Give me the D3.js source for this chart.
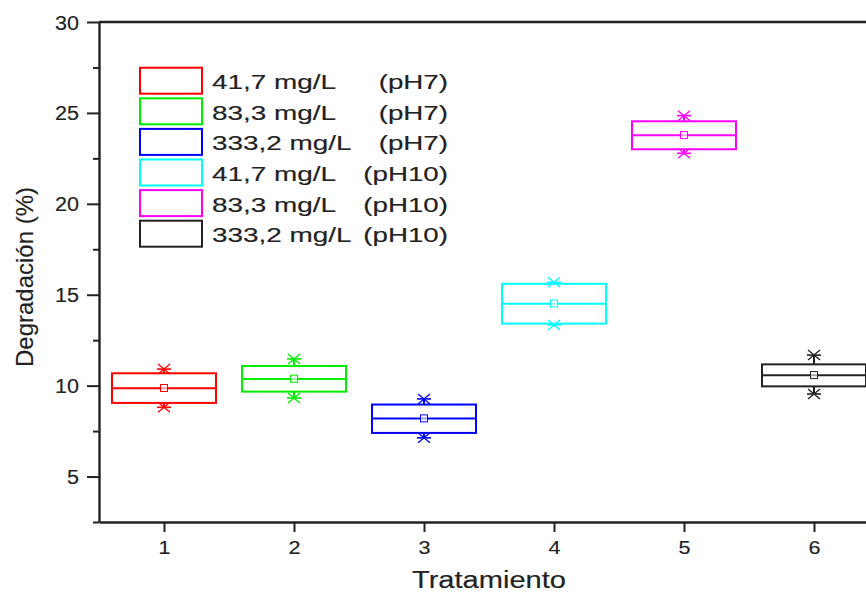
<!DOCTYPE html>
<html>
<head>
<meta charset="utf-8">
<script src="https://cdn.jsdelivr.net/npm/d3@7"></script>
<style>
  html, body { margin: 0; padding: 0; background: #fff; }
  svg { display: block; font-family: "Liberation Sans", Arial, sans-serif; }
  svg text { stroke: #1a1a1a; stroke-width: 0.15px; }
</style>
</head>
<body>
<svg id="chart" width="866" height="592"></svg>
<script>
// ---- data ----
const categories = [1, 2, 3, 4, 5, 6];
const concLabels = ["41,7 mg/L", "83,3 mg/L", "333,2 mg/L", "41,7 mg/L", "83,3 mg/L", "333,2 mg/L"];
const phLabels = ["(pH7)", "(pH7)", "(pH7)", "(pH10)", "(pH10)", "(pH10)"];
const colors = ["#ff0000", "#00ee00", "#0000ff", "#00ffff", "#ff00ff", "#222222"];
const q1Values = [9.05, 9.67, 7.40, 13.41, 23.00, 9.96];
const q3Values = [10.68, 11.08, 8.96, 15.60, 24.54, 11.17];
const medianValues = [9.85, 10.37, 8.19, 14.51, 23.77, 10.57];
const meanValues = [9.87, 10.38, 8.20, 14.52, 23.78, 10.58];
const maxValues = [10.91, 11.47, 9.27, 15.68, 24.85, 11.68];
const minValues = [8.81, 9.32, 7.13, 13.34, 22.78, 9.54];
const yMajorTicks = [5, 10, 15, 20, 25, 30];
const yMinorTicks = [2.5, 7.5, 12.5, 17.5, 22.5, 27.5];
const xTicks = [1, 2, 3, 4, 5, 6];
const xTitle = "Tratamiento";
const yTitle = "Degradación (%)";

// ---- layout ----
const svg = d3.select("#chart");
const x = d3.scaleLinear().domain([0.5, 6.5]).range([99, 879]);
const y = d3.scaleLinear().domain([2.5, 30]).range([522, 22]);
const boxW = 0.8; // in x units
const axisColor = "#222";

// top frame
svg.append("line")
  .attr("x1", x(0.5)).attr("x2", x(6.5))
  .attr("y1", y(30)).attr("y2", y(30))
  .attr("stroke", axisColor).attr("stroke-width", 2.4);

// y axis minor
const yMinor = svg.append("g").attr("transform", `translate(${x(0.5)},0)`)
  .call(d3.axisLeft(y).tickValues(yMinorTicks).tickSize(6).tickSizeOuter(0).tickFormat(""));
yMinor.select(".domain").remove();
yMinor.selectAll(".tick line").attr("stroke", axisColor).attr("stroke-width", 2);

// y axis major
const yAx = svg.append("g").attr("transform", `translate(${x(0.5)},0)`)
  .call(d3.axisLeft(y).tickValues(yMajorTicks).tickSize(12).tickSizeOuter(0).tickPadding(8)
    .tickFormat(d3.format("d")));
yAx.select(".domain").attr("stroke", axisColor).attr("stroke-width", 2.4);
yAx.selectAll(".tick line").attr("stroke", axisColor).attr("stroke-width", 2);
yAx.selectAll(".tick text")
  .attr("font-family", "Liberation Sans, Arial, sans-serif")
  .attr("font-size", 19.5).attr("fill", "#222")
  .attr("dy", "0.36em")
  .attr("textLength", d => String(d).length * 12)
  .attr("lengthAdjust", "spacingAndGlyphs");

// x axis
const xAx = svg.append("g").attr("transform", `translate(0,${y(2.5)})`)
  .call(d3.axisBottom(x).tickValues(xTicks).tickSize(10).tickSizeOuter(0).tickPadding(9)
    .tickFormat(d3.format("d")));
xAx.select(".domain").attr("stroke", axisColor).attr("stroke-width", 2.4);
xAx.selectAll(".tick line").attr("stroke", axisColor).attr("stroke-width", 2);
xAx.selectAll(".tick text")
  .attr("font-family", "Liberation Sans, Arial, sans-serif")
  .attr("font-size", 19).attr("fill", "#222")
  .attr("textLength", 12).attr("lengthAdjust", "spacingAndGlyphs");

// axis titles
svg.append("text")
  .attr("x", (x(0.5) + x(6.5)) / 2).attr("y", 588)
  .attr("text-anchor", "middle")
  .attr("font-size", 23).attr("fill", "#222")
  .attr("textLength", 154).attr("lengthAdjust", "spacingAndGlyphs")
  .text(xTitle);
svg.append("text")
  .attr("transform", "translate(33,277) rotate(-90)")
  .attr("text-anchor", "middle")
  .attr("font-size", 24).attr("fill", "#222")
  .text(yTitle);

// ---- boxes ----
const data = categories.map((c, i) => ({
  c, color: colors[i], q1: q1Values[i], q3: q3Values[i], med: medianValues[i],
  mean: meanValues[i], max: maxValues[i], min: minValues[i]
}));

const g = svg.append("g");
const bw = x(1 + boxW) - x(1);

function star(sel, cx, cy, color) {
  sel.append("line").attr("x1", cx - 7).attr("x2", cx + 7).attr("y1", cy).attr("y2", cy)
    .attr("stroke", color).attr("stroke-width", 1.6);
  sel.append("line").attr("x1", cx - 6).attr("x2", cx + 6).attr("y1", cy - 5).attr("y2", cy + 5)
    .attr("stroke", color).attr("stroke-width", 1.3);
  sel.append("line").attr("x1", cx - 6).attr("x2", cx + 6).attr("y1", cy + 5).attr("y2", cy - 5)
    .attr("stroke", color).attr("stroke-width", 1.3);
}

data.forEach(d => {
  const cx = x(d.c);
  const bg = g.append("g");
  bg.append("line").attr("x1", cx).attr("x2", cx).attr("y1", y(d.q3)).attr("y2", y(d.max))
    .attr("stroke", d.color).attr("stroke-width", 2);
  bg.append("line").attr("x1", cx).attr("x2", cx).attr("y1", y(d.q1)).attr("y2", y(d.min))
    .attr("stroke", d.color).attr("stroke-width", 2);
  bg.append("rect")
    .attr("x", cx - bw / 2).attr("y", y(d.q3))
    .attr("width", bw).attr("height", y(d.q1) - y(d.q3))
    .attr("fill", "none").attr("stroke", d.color).attr("stroke-width", 2);
  bg.append("line").attr("x1", cx - bw / 2).attr("x2", cx + bw / 2)
    .attr("y1", y(d.med)).attr("y2", y(d.med))
    .attr("stroke", d.color).attr("stroke-width", 2);
  bg.append("rect").attr("x", cx - 3.5).attr("y", y(d.mean) - 3.5)
    .attr("width", 7).attr("height", 7)
    .attr("fill", "#fff").attr("fill-opacity", 0.6).attr("stroke", d.color).attr("stroke-width", 1);
  star(bg, cx, y(d.max), d.color);
  star(bg, cx, y(d.min), d.color);
});

// ---- legend ----
const leg = svg.append("g");
const legTop = 67.7, legPitch = 30.6;
categories.forEach((c, i) => {
  const top = legTop + i * legPitch;
  leg.append("rect").attr("x", 140).attr("y", top).attr("width", 62).attr("height", 26)
    .attr("fill", "none").attr("stroke", colors[i]).attr("stroke-width", 2);
  leg.append("text")
    .attr("transform", `translate(212,${top + 21.5}) scale(1.33,1)`)
    .attr("font-size", 21).attr("fill", "#222")
    .text(concLabels[i]);
  leg.append("text")
    .attr("transform", `translate(448,${top + 21.5}) scale(1.32,1)`)
    .attr("text-anchor", "end")
    .attr("font-size", 21).attr("fill", "#222")
    .text(phLabels[i]);
});
</script>
</body>
</html>
